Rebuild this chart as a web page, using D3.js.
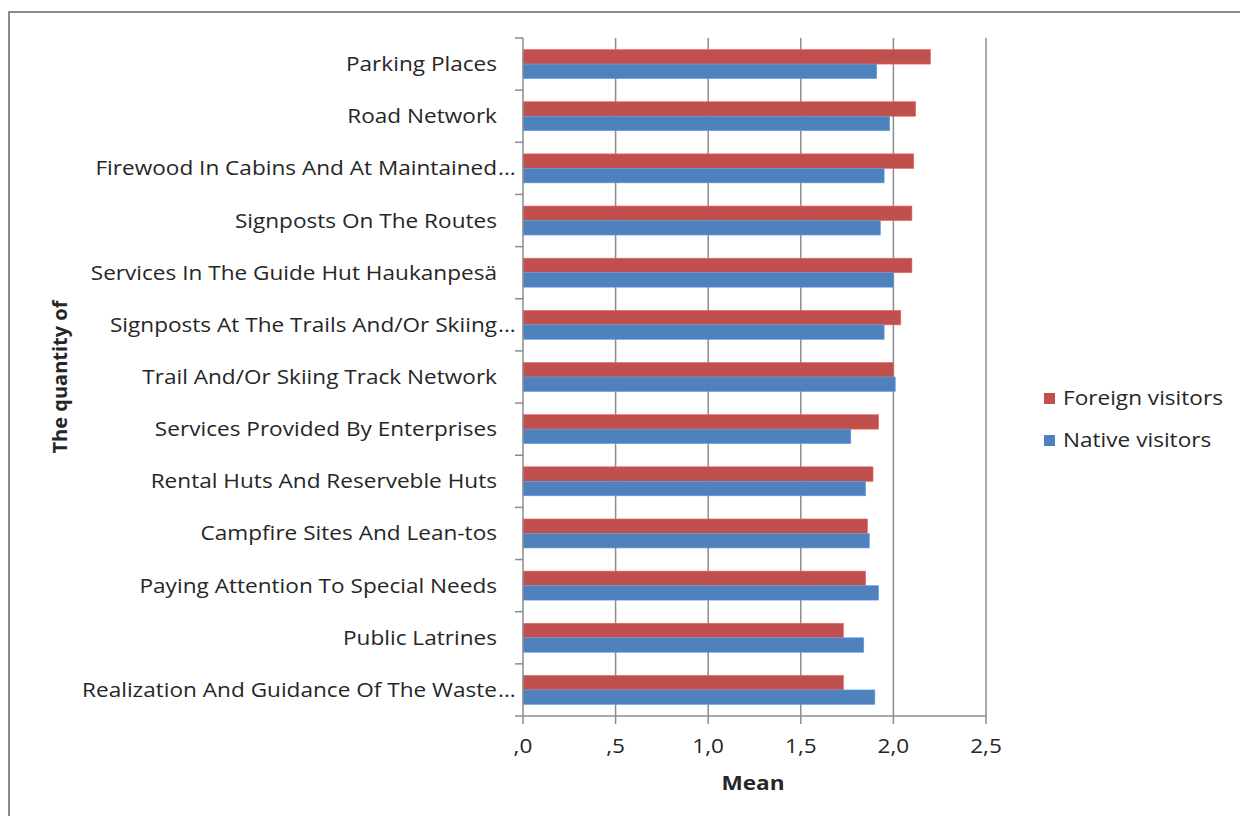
<!DOCTYPE html>
<html><head><meta charset="utf-8">
<script src="https://cdn.jsdelivr.net/npm/d3@7"></script>
<style>body{margin:0;background:#fff}svg{display:block}text{font-family:"Open Sans",sans-serif}</style>
</head><body><svg id="c" width="1240" height="816"></svg>
<script>
const categories = [
  "Parking Places",
  "Road Network",
  "Firewood In Cabins And At Maintained",
  "Signposts On The Routes",
  "Services In The Guide Hut Haukanpesä",
  "Signposts At The Trails And/Or Skiing",
  "Trail And/Or Skiing Track Network",
  "Services Provided By Enterprises",
  "Rental Huts And Reserveble Huts",
  "Campfire Sites And Lean-tos",
  "Paying Attention To Special Needs",
  "Public Latrines",
  "Realization And Guidance Of The Waste"
];
const truncated = [false,false,true,false,false,true,false,false,false,false,false,false,true];
const foreign = [2.20,2.12,2.11,2.10,2.10,2.04,2.00,1.92,1.89,1.86,1.85,1.73,1.73];
const native  = [1.91,1.98,1.95,1.93,2.00,1.95,2.01,1.77,1.85,1.87,1.92,1.84,1.90];
const seriesNames = ["Foreign visitors","Native visitors"];
const seriesColors = ["#C0504D","#4F81BD"];
const xTicks = [0,0.5,1.0,1.5,2.0,2.5];
const xTickLabels = [",0",",5","1,0","1,5","2,0","2,5"];

const SX = 1.13, FS = 20, TXT = "#262626";
const svg = d3.select("#c");
svg.append("rect").attr("x",9).attr("y",12).attr("width",1260).attr("height",830)
  .attr("fill","none").attr("stroke","#8a8a8a").attr("stroke-width",2);

const L=523, R=986, T=38, B=716;
const x = d3.scaleLinear().domain([0,2.5]).range([L,R]);
const y = d3.scaleBand().domain(categories).range([T,B]).paddingInner(0.444).paddingOuter(0.222);
const sub = d3.scaleBand().domain([0,1]).range([0,y.bandwidth()]);

function stext(px, py, anchor){
  return svg.append("text").attr("transform",`translate(${px},${py}) scale(${SX},1)`)
    .attr("text-anchor",anchor).attr("font-size",FS).attr("fill",TXT);
}

// gridlines
svg.append("g").selectAll("line").data(xTicks.slice(1)).join("line")
  .attr("x1",d=>x(d)).attr("x2",d=>x(d)).attr("y1",T).attr("y2",B+8)
  .attr("stroke","#8c8c8c").attr("stroke-width",1.5);

// bars
const data = categories.map((c,i)=>({c,v:[foreign[i],native[i]]}));
const g = svg.append("g");
data.forEach(d=>{
  d.v.forEach((v,k)=>{
    g.append("rect").attr("x",x(0)).attr("y",y(d.c)+sub(k))
      .attr("width",x(v)-x(0)).attr("height",sub.bandwidth())
      .attr("fill",seriesColors[k]).attr("stroke",d3.color(seriesColors[k]).brighter(0.6)).attr("stroke-width",0.6);
  });
});

// axes
svg.append("line").attr("x1",L-8).attr("x2",R).attr("y1",B).attr("y2",B).attr("stroke","#8c8c8c").attr("stroke-width",1.5);
svg.append("line").attr("x1",L).attr("x2",L).attr("y1",T).attr("y2",B+8).attr("stroke","#8c8c8c").attr("stroke-width",1.5);
const bounds = categories.map(c=>y(c)-y.step()*y.paddingInner()/2);
svg.append("g").selectAll("line").data(bounds).join("line")
  .attr("x1",L-8).attr("x2",L).attr("y1",d=>d).attr("y2",d=>d)
  .attr("stroke","#8c8c8c").attr("stroke-width",1.5);

xTicks.forEach((d,i)=>{ stext(x(d), 753, "middle").text(xTickLabels[i]); });

// category labels
data.forEach((d,i)=>{
  const cy = y(d.c)+y.bandwidth()/2 + 7;
  stext(497, cy, "end").text(d.c);
  if(truncated[i]) stext(498, cy, "start").text("...");
});

stext(753, 790, "middle").attr("font-weight","bold").text("Mean");
svg.append("text").attr("transform","translate(67,377) rotate(-90)").attr("text-anchor","middle")
  .attr("font-size",FS).attr("font-weight","bold").attr("fill",TXT).text("The quantity of");

// legend
seriesNames.forEach((s,k)=>{
  const ly = 398 + k*42;
  svg.append("rect").attr("x",1044).attr("y",ly-5).attr("width",11).attr("height",11).attr("fill",seriesColors[k]);
  stext(1063, ly+7, "start").text(s);
});
</script></body></html>
